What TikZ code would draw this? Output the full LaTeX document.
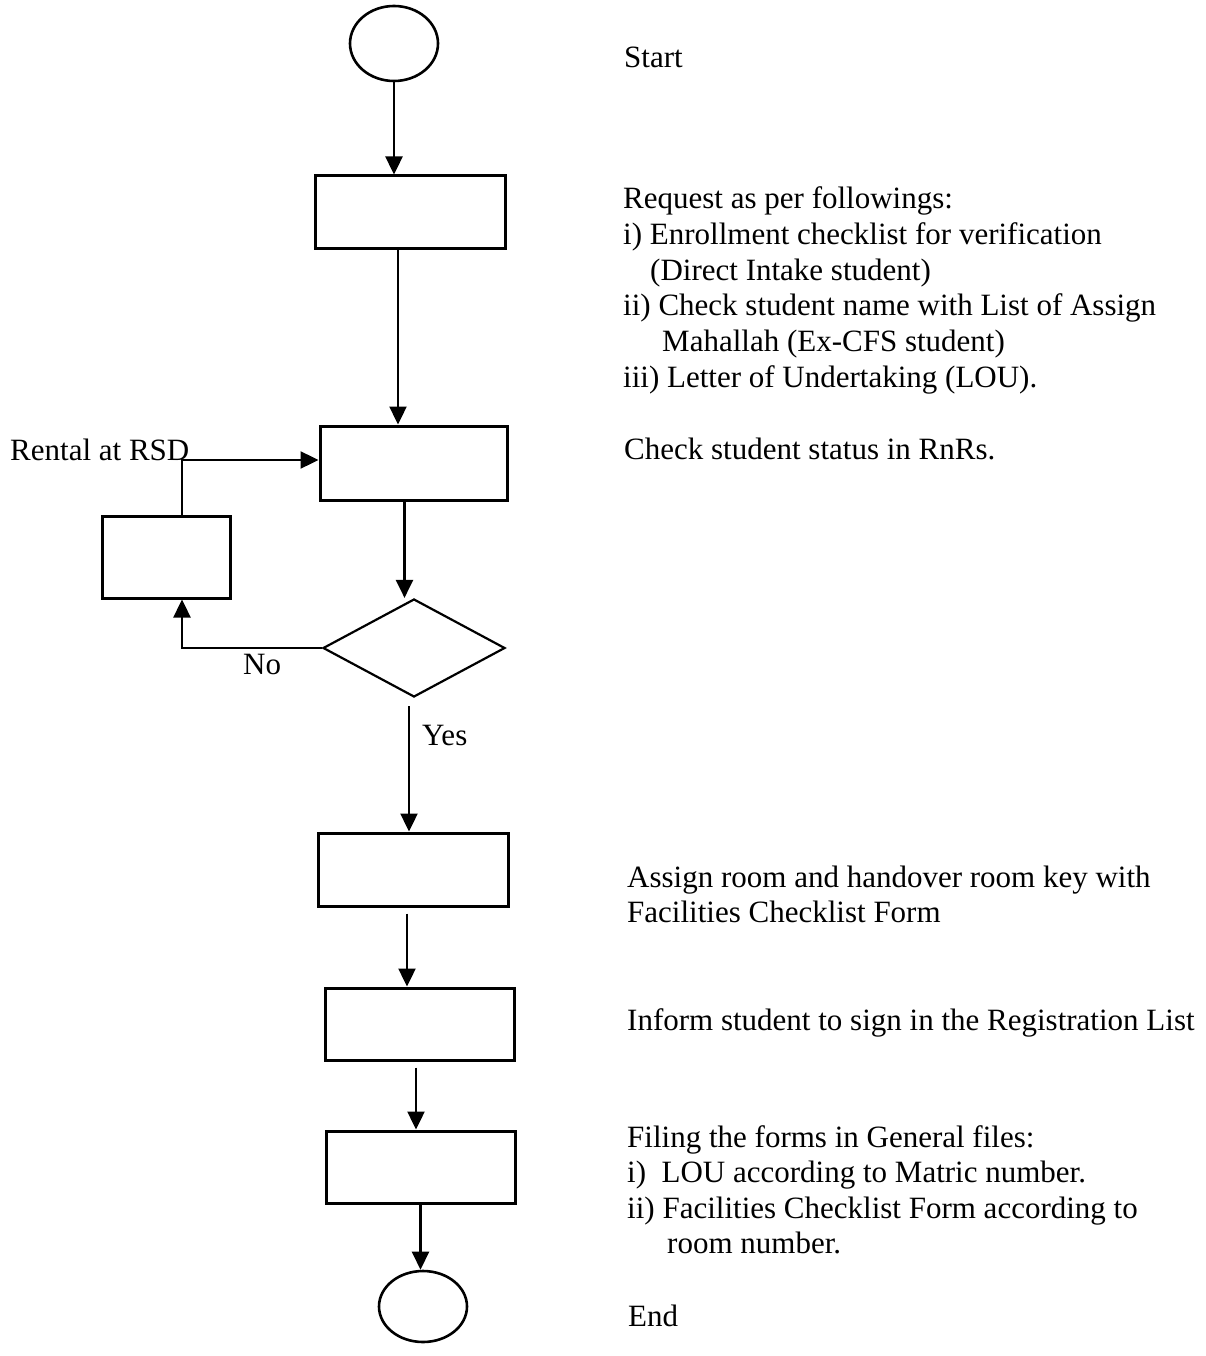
\documentclass[tikz,border=0pt]{standalone}
\usepackage{fontspec}
\setmainfont{Liberation Serif}
\usetikzlibrary{shapes.geometric,arrows.meta}
\begin{document}
\begin{tikzpicture}[x=1pt,y=-1pt,
  proc/.style={draw, line width=3pt, rectangle, inner sep=0pt},
  term/.style={draw, line width=2.6pt, ellipse, inner sep=0pt, minimum width=88pt},
  dec/.style={draw, line width=2.2pt, diamond, inner sep=0pt, minimum width=182pt, minimum height=98pt},
  flow/.style={line width=2.4pt, -{Triangle[length=18pt,width=17pt]}},
  lbl/.style={anchor=base west, inner sep=0pt, font=\fontsize{31}{35.6}\selectfont}]
\useasboundingbox[fill=white] (0,0) rectangle (1205,1356);

% shapes
\node[term, minimum height=75pt] (start) at (394,43.5) {};
\node[proc, minimum width=190pt, minimum height=73pt] (b1) at (410,212.5) {};
\node[proc, minimum width=187pt, minimum height=74pt] (b2) at (413.5,463) {};
\node[dec] (d) at (414,648) {};
\node[proc, minimum width=128pt, minimum height=82pt] (b3) at (166,557) {};
\node[proc, minimum width=190pt, minimum height=73pt] (b4) at (413,869.5) {};
\node[proc, minimum width=189pt, minimum height=72pt] (b5) at (419.5,1024) {};
\node[proc, minimum width=189pt, minimum height=72pt] (b6) at (420.5,1167) {};
\node[term, minimum height=71pt] (end) at (423,1306.5) {};

% connectors
\draw[flow] (start.south) -- (start.south |- b1.north);
\draw[flow] ([xshift=-12pt]b1.south) -- ([xshift=-12pt]b1.south |- b2.north);
\draw[flow] ([xshift=-9pt]b2.south) -- ([xshift=-9pt]b2.south |- d.north);
\draw[flow] (d.west) -| ([xshift=16pt]b3.south);
\draw[flow] ([xshift=16pt]b3.north) |- ([yshift=3pt]b2.west);
\draw[flow] ([xshift=-5pt,yshift=-8pt]d.south) -- ([xshift=-5pt]d.south |- b4.north);
\draw[flow] ([xshift=-6pt,yshift=-6pt]b4.south) -- ([xshift=-6pt]b4.south |- b5.north);
\draw[flow] ([xshift=-3.5pt,yshift=-6pt]b5.south) -- ([xshift=-3.5pt]b5.south |- b6.north);
\draw[flow] (b6.south) -- (b6.south |- end.north);

% connector labels
\node[lbl] (rental) at (10,460) {Rental at RSD};
\node[lbl] (no) at (243,674) {No};
\node[lbl] (yes) at (422,745) {Yes};

% descriptions
\node[lbl] (t1) at (624,67.5) {Start};
\node[lbl] (t2) at (623,209) {Request as per followings:};
\node[lbl] (t3) at (623,244.6) {i) Enrollment checklist for verification};
\node[lbl] (t4) at (650,280.2) {(Direct Intake student)};
\node[lbl] (t5) at (623,315.8) {ii) Check student name with List of Assign};
\node[lbl] (t6) at (662,351.4) {Mahallah (Ex-CFS student)};
\node[lbl] (t7) at (623,387) {iii) Letter of Undertaking (LOU).};
\node[lbl] (t8) at (624,459) {Check student status in RnRs.};
\node[lbl] (t9) at (627,887) {Assign room and handover room key with};
\node[lbl] (t10) at (627,922.6) {Facilities Checklist Form};
\node[lbl] (t11) at (627,1030) {Inform student to sign in the Registration List};
\node[lbl] (t12) at (627,1147) {Filing the forms in General files:};
\node[lbl] (t13) at (627,1182.6) {i)~ LOU according to Matric number.};
\node[lbl] (t14) at (627,1218.2) {ii) Facilities Checklist Form according to};
\node[lbl] (t15) at (667,1253.8) {room number.};
\node[lbl] (t16) at (628,1326) {End};
\end{tikzpicture}
\end{document}
